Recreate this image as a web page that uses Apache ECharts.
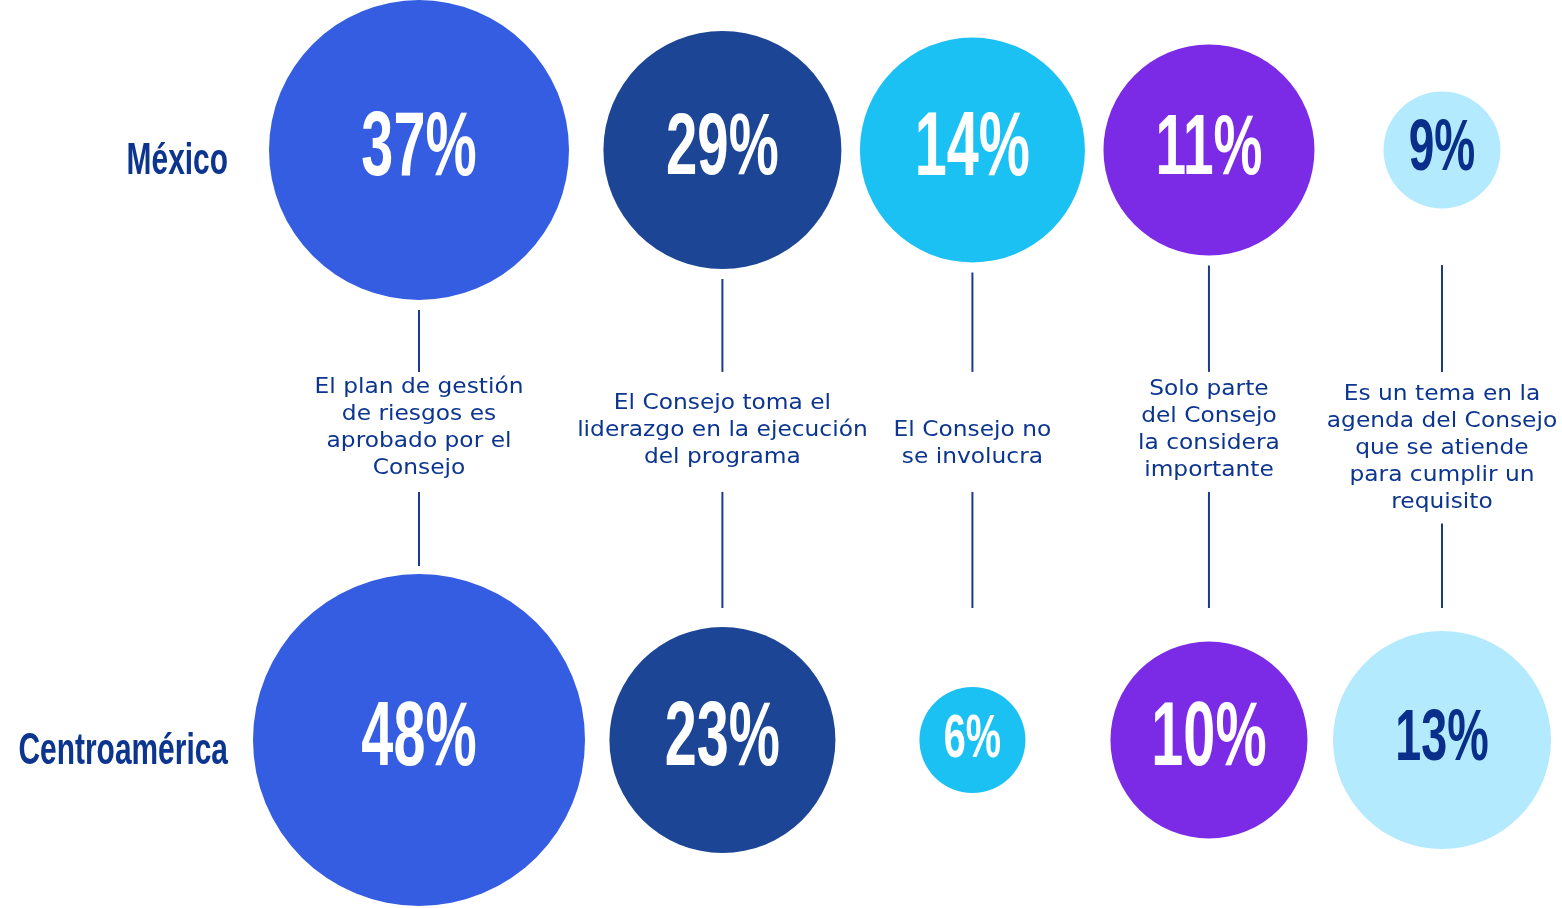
<!DOCTYPE html>
<html>
<head>
<meta charset="utf-8">
<title>Participación del Consejo en la gestión de riesgos</title>
<script src="https://cdn.jsdelivr.net/npm/echarts@6/dist/echarts.min.js"></script>
<style>
html, body { margin: 0; padding: 0; background: #fff; }
#chart { width: 1562px; height: 908px; }
</style>
</head>
<body>
<div id="chart"></div>
<script>
// datos
const categories = [
  'El plan de gestión\nde riesgos es\naprobado por el\nConsejo',
  'El Consejo toma el\nliderazgo en la ejecución\ndel programa',
  'El Consejo no\nse involucra',
  'Solo parte\ndel Consejo\nla considera\nimportante',
  'Es un tema en la\nagenda del Consejo\nque se atiende\npara cumplir un\nrequisito'
];
const regions = ['Centroamérica', 'México'];
const mexico = [37, 29, 14, 11, 9];
const centroamerica = [48, 23, 6, 10, 13];

// estilo
const colors = ['#345de2', '#1c4595', '#1cc1f4', '#7b2ae6', '#b4eafd'];
const pctColors = ['#ffffff', '#ffffff', '#ffffff', '#ffffff', '#0a2f8a'];
const mexicoSize = [300, 238, 225, 211, 117];
const centroSize = [332, 226, 106, 197, 218];
const mexicoFont = [90, 88, 90, 86, 72];
const centroFont = [90, 90, 62, 90, 73];
const textShift = [0, 2, 16, 2, 20];
const navy = '#0c3590';
const gap = 19;
const heavy = '"Liberation Sans", Arial, sans-serif';

// posición de cada columna según el tamaño de sus burbujas
const maxSize = mexicoSize.map((s, i) => Math.max(s, centroSize[i]));
const colX = [0];
for (let i = 1; i < categories.length; i++) {
  colX.push(colX[i - 1] + (maxSize[i - 1] + maxSize[i]) / 2 + gap);
}

const chart = echarts.init(document.getElementById('chart'));

function bubbleSeries(values, row, sizes, fonts) {
  return [{
    type: 'scatter',
    clip: false,
    silent: true,
    data: values.map((v, i) => [colX[i], row, v]),
    symbolSize: (val, params) => sizes[params.dataIndex],
    itemStyle: { color: params => colors[params.dataIndex], opacity: 1 },
    z: 2
  }, {
    type: 'custom',
    clip: false,
    silent: true,
    data: values.map((v, i) => [colX[i], row, v]),
    renderItem(params, api) {
      const i = params.dataIndex;
      const p = api.coord([api.value(0), api.value(1)]);
      return {
        type: 'text',
        x: p[0],
        y: p[1],
        scaleX: 0.64,
        style: {
          text: api.value(2) + '%',
          fill: pctColors[i],
          font: 'bold ' + fonts[i] + 'px ' + heavy,
          align: 'center',
          verticalAlign: 'middle'
        }
      };
    },
    z: 3
  }];
}

chart.setOption({
  animation: false,
  grid: { left: 419, right: 120, top: 150, bottom: 168 },
  xAxis: { type: 'value', min: 0, max: colX[colX.length - 1], show: false },
  yAxis: { type: 'value', min: 0, max: 1, show: false },
  series: [
    ...bubbleSeries(mexico, 1, mexicoSize, mexicoFont),
    ...bubbleSeries(centroamerica, 0, centroSize, centroFont),
    {
      // nombres de las regiones
      type: 'custom',
      clip: false,
      silent: true,
      data: regions.map((r, i) => [0, i]),
      renderItem(params, api) {
        const p = api.coord([api.value(0), api.value(1)]);
        return {
          type: 'text',
          x: p[0] - 191,
          y: p[1] + 12,
          scaleX: 0.68,
          style: {
            text: regions[params.dataIndex],
            fill: navy,
            font: 'bold 44px ' + heavy,
            align: 'right',
            verticalAlign: 'middle'
          }
        };
      }
    },
    {
      // descripciones y líneas entre filas
      type: 'custom',
      clip: false,
      silent: true,
      data: categories.map((c, i) => [colX[i], 0.5]),
      renderItem(params, api) {
        const i = params.dataIndex;
        const top = api.coord([api.value(0), 1]);
        const bot = api.coord([api.value(0), 0]);
        const x = top[0];
        const n = categories[i].split('\n').length;
        const lineH = 27;
        const midY = top[1] + (bot[1] - top[1]) * 0.471;
        const textY = midY + textShift[i];
        const textBottom = textY + n * lineH / 2;
        const upStart = Math.max(top[1] + 115, top[1] + mexicoSize[i] / 2 + 10);
        const upEnd = midY - 56;
        const lowStart = Math.max(midY + 64, textBottom + 8);
        const lowEnd = Math.min(bot[1] - 132, bot[1] - centroSize[i] / 2 - 8);
        const lineStyle = { stroke: '#1b3a8c', lineWidth: 2 };
        return {
          type: 'group',
          children: [
            { type: 'line', shape: { x1: x, y1: upStart, x2: x, y2: upEnd }, style: lineStyle },
            { type: 'line', shape: { x1: x, y1: lowStart, x2: x, y2: lowEnd }, style: lineStyle },
            {
              type: 'text',
              x: x,
              y: textY,
              scaleX: 1.06,
              style: {
                text: categories[i],
                fill: navy,
                font: '22px "DejaVu Sans", sans-serif',
                lineHeight: lineH,
                align: 'center',
                verticalAlign: 'middle'
              }
            }
          ]
        };
      }
    }
  ]
});
</script>
</body>
</html>
